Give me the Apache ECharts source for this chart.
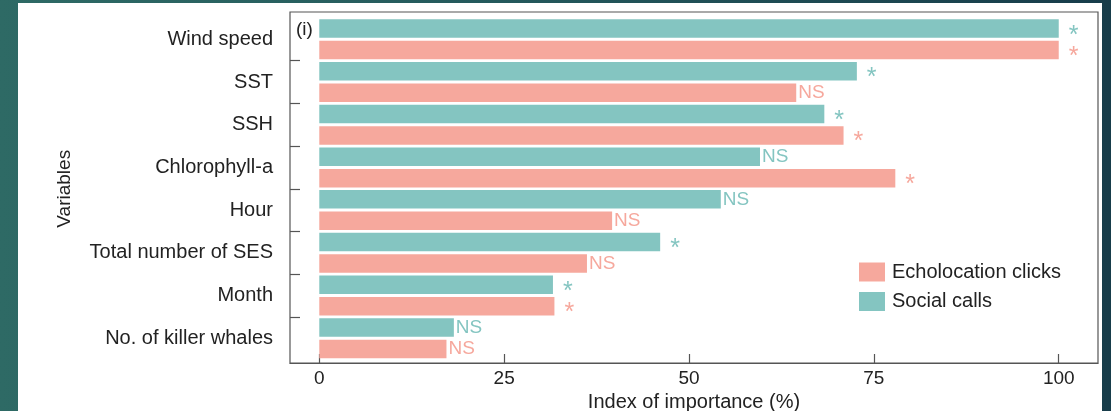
<!DOCTYPE html>
<html>
<head>
<meta charset="utf-8">
<script src="https://cdn.jsdelivr.net/npm/echarts@6/dist/echarts.min.js"></script>
<style>
  html, body {
    margin: 0; padding: 0; width: 1111px; height: 411px; overflow: hidden;
    background: linear-gradient(90deg, #2e6a65 0%, #24595c 45%, #173c4a 100%);
  }
  #panel { position: absolute; left: 18px; top: 3px; width: 1084px; height: 408px; background: #fff; }
  #chart { position: absolute; left: 0; top: 0; width: 1111px; height: 411px; }
</style>
</head>
<body>
<div id="panel"></div>
<div id="chart"></div>
<script>
// Variables ranked by importance (top to bottom)
const variables = ['Wind speed', 'SST', 'SSH', 'Chlorophyll-a', 'Hour',
                   'Total number of SES', 'Month', 'No. of killer whales'];
// Index of importance (%)
const socialCalls        = [100, 72.7, 68.3, 59.6, 54.3, 46.1, 31.6, 18.2];
const echolocationClicks = [100, 64.5, 70.9, 77.9, 39.6, 36.2, 31.8, 17.2];
// Significance marks
const socialSignif = ['*', '*', '*', 'NS', 'NS', '*', '*', 'NS'];
const echoSignif   = ['*', 'NS', '*', '*', 'NS', 'NS', '*', 'NS'];
// Tick labels on the importance axis
const importanceTicks = [0, 25, 50, 75, 100];

const TEAL = '#84c5c1';
const PINK = '#f6a89d';
const INK = '#222';
const AXIS = '#555';
const FONT = '"Liberation Sans", Arial, Helvetica, sans-serif';

// Separator ticks between the category groups (band boundaries 1..n-1)
const groupSeparators = variables.slice(1).map((_, i) => i + 1);

function withMarks(values, marks, color) {
  return values.map((v, i) => {
    const star = marks[i] === '*';
    return {
      value: v,
      label: {
        show: true,
        position: 'right',
        formatter: marks[i],
        color: color,
        fontFamily: FONT,
        fontSize: star ? 25 : 19,
        distance: star ? 10 : 2,
        offset: star ? [0, 7] : [0, 0]
      }
    };
  });
}

const chart = echarts.init(document.getElementById('chart'), null, { renderer: 'canvas' });

chart.setOption({
  backgroundColor: 'transparent',
  animation: false,
  textStyle: { fontFamily: FONT, color: INK },
  grid: [
    // outer frame
    { left: 290, top: 12, width: 808, height: 351, show: true, outerBoundsMode: 'none',
      borderColor: AXIS, borderWidth: 1.2, backgroundColor: 'transparent' },
    // bar area
    { left: 290, top: 18, width: 808, height: 341.5, show: false, outerBoundsMode: 'none' }
  ],
  xAxis: [
    { gridIndex: 0, type: 'value', show: false, min: 0, max: 1 },
    {
      gridIndex: 1, type: 'value', position: 'bottom', min: -3.96, max: 105.31, offset: 3.5,
      name: 'Index of importance (%)', nameLocation: 'middle', nameGap: 27,
      nameTextStyle: { fontSize: 20, color: INK, fontFamily: FONT },
      axisLine: { show: true, onZero: false, lineStyle: { color: AXIS, width: 1.2 } },
      axisTick: { show: true, inside: true, length: 9, customValues: importanceTicks,
                  lineStyle: { color: AXIS, width: 1.2 } },
      axisLabel: { customValues: importanceTicks, fontSize: 19, color: INK, margin: 6, fontFamily: FONT },
      splitLine: { show: false }
    }
  ],
  yAxis: [
    { gridIndex: 0, type: 'value', show: false, min: 0, max: 1 },
    {
      gridIndex: 1, type: 'category', data: variables, inverse: true,
      name: 'Variables', nameLocation: 'middle', nameRotate: 90, nameGap: 216,
      nameTextStyle: { fontSize: 19, color: INK, fontFamily: FONT },
      axisLine: { show: false, onZero: false },
      axisTick: { show: false },
      axisLabel: { fontSize: 20, color: INK, margin: 17, fontFamily: FONT }
    },
    {
      // carries only the short separator ticks between groups
      gridIndex: 1, type: 'value', position: 'left', inverse: true,
      min: 0, max: variables.length,
      axisLine: { show: false, onZero: false },
      axisLabel: { show: false },
      splitLine: { show: false },
      axisTick: { show: true, inside: true, length: 10, customValues: groupSeparators,
                  lineStyle: { color: AXIS, width: 1.2 } }
    }
  ],
  legend: {
    orient: 'vertical', left: 859, top: 262, padding: 0,
    itemWidth: 26, itemHeight: 19, itemGap: 9.5, icon: 'rect',
    data: ['Echolocation clicks', 'Social calls'],
    textStyle: { fontSize: 20, color: INK, fontFamily: FONT, padding: [0, 0, 0, 2] }
  },
  graphic: [
    { type: 'text', left: 296, top: 20,
      style: { text: '(i)', fontSize: 19, fill: INK, fontFamily: FONT } }
  ],
  series: [
    {
      name: 'Social calls', type: 'bar', xAxisIndex: 1, yAxisIndex: 1,
      barWidth: 18.5, barGap: '16%',
      itemStyle: { color: TEAL },
      data: withMarks(socialCalls, socialSignif, TEAL)
    },
    {
      name: 'Echolocation clicks', type: 'bar', xAxisIndex: 1, yAxisIndex: 1,
      barWidth: 18.5, barGap: '16%',
      itemStyle: { color: PINK },
      data: withMarks(echolocationClicks, echoSignif, PINK)
    }
  ]
});
</script>
</body>
</html>
